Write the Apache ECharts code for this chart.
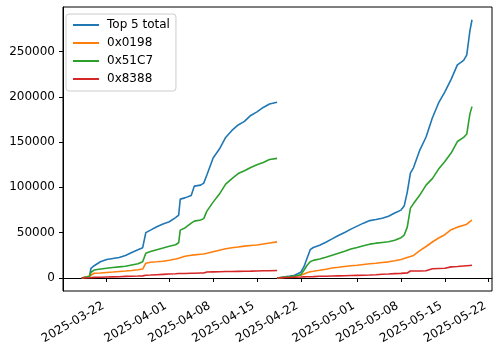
<!DOCTYPE html>
<html>
<head>
<meta charset="utf-8">
<script src="https://cdn.jsdelivr.net/npm/echarts@6/dist/echarts.min.js"></script>
<style>
  html, body { margin: 0; padding: 0; background: #fff; }
  #chart { width: 500px; height: 353px; }
</style>
</head>
<body>
<div id="chart"></div>
<script>
// first run (mid March -> 18 April)
const datesA = ['2025-03-18 00:00', '2025-03-19 06:00', '2025-03-19 12:00', '2025-03-20 00:00',
  '2025-03-21', '2025-03-22', '2025-03-23', '2025-03-24', '2025-03-25', '2025-03-26', '2025-03-27',
  '2025-03-27 18:00', '2025-03-28 06:00', '2025-03-29', '2025-03-30', '2025-03-31', '2025-04-01',
  '2025-04-02', '2025-04-02 12:00', '2025-04-02 18:00', '2025-04-03 12:00', '2025-04-04 12:00',
  '2025-04-05', '2025-04-06', '2025-04-06 12:00', '2025-04-07', '2025-04-08', '2025-04-09',
  '2025-04-10', '2025-04-11', '2025-04-12', '2025-04-13', '2025-04-14', '2025-04-15', '2025-04-16',
  '2025-04-17', '2025-04-18 05:00']
const totalA = [0, 1700, 10700, 13500, 17900, 20400, 21500, 22500, 24800, 28100, 31100, 33400, 50000,
  52800, 56600, 59600, 62000, 66600, 69300, 87000, 88400, 91100, 101400, 102500, 104700, 113600,
  132500, 142300, 155100, 162800, 168900, 172800, 179400, 183300, 188200, 192100, 194000]
const x0198A = [0, 2100, 3500, 5200, 5500, 6100, 6600, 7200, 7700, 8300, 9100, 9800, 16300, 17400,
  17900, 18500, 19600, 21000, 21800, 22900, 24000, 25100, 25500, 26200, 26500, 27300, 29000, 30600,
  32200, 33400, 34200, 35100, 35800, 36400, 37500, 38600, 39800]
const x51c7A = [0, 1700, 6300, 8700, 9800, 10700, 11500, 12200, 12900, 14300, 15700, 17900, 27300,
  29200, 31200, 33100, 35100, 36700, 38900, 52800, 55200, 60500, 62700, 64000, 65500, 73800, 83700,
  92600, 103600, 109700, 115200, 118300, 121900, 124900, 127400, 130700, 132000]
const x8388A = [0, 300, 400, 600, 800, 1000, 1200, 1400, 1700, 1900, 2100, 2300, 3000, 3200, 3600,
  4000, 4300, 4600, 4900, 4900, 5000, 5200, 5200, 5400, 5500, 6500, 6700, 6900, 7100, 7200, 7300,
  7400, 7500, 7700, 7900, 8000, 8200]

// second run (restart 18 April -> 19 May)
const datesB = ['2025-04-18 05:00', '2025-04-20', '2025-04-21', '2025-04-22', '2025-04-22 12:00',
  '2025-04-23', '2025-04-23 12:00', '2025-04-24', '2025-04-25', '2025-04-26', '2025-04-27',
  '2025-04-28', '2025-04-29', '2025-04-30', '2025-05-01', '2025-05-02', '2025-05-03', '2025-05-04',
  '2025-05-05', '2025-05-06', '2025-05-07', '2025-05-08', '2025-05-08 12:00', '2025-05-09',
  '2025-05-09 12:00', '2025-05-10', '2025-05-11', '2025-05-12', '2025-05-13', '2025-05-14',
  '2025-05-15', '2025-05-16', '2025-05-17', '2025-05-18', '2025-05-18 12:00', '2025-05-19 00:00',
  '2025-05-19 08:00']
const totalB = [0, 1700, 3000, 6300, 12400, 21800, 31200, 33600, 36200, 39500, 43100, 46900, 50200,
  53900, 57200, 60500, 63300, 64600, 66000, 68200, 71600, 74900, 79300, 94800, 115800, 121900,
  141200, 155600, 176600, 193200, 205400, 219200, 235200, 240200, 246300, 272800, 285000]
const x0198B = [0, 1100, 1800, 3000, 4300, 5800, 6900, 7400, 8500, 9700, 11000, 11800, 12700, 13500,
  14000, 14800, 15600, 16300, 17100, 17800, 19000, 20400, 21500, 22600, 23700, 24900, 30100, 34700,
  39700, 44100, 47700, 53300, 56100, 58300, 59400, 62200, 63800]
const x51c7B = [0, 1300, 2200, 3500, 8500, 14000, 17900, 19400, 20900, 22900, 25100, 27300, 29500,
  32000, 33600, 35600, 37300, 38400, 39200, 40000, 41700, 44500, 47200, 56100, 77100, 82100, 91500,
  102500, 109700, 120200, 128500, 137900, 150600, 155100, 158900, 181100, 189100]
const x8388B = [0, 500, 800, 1000, 1200, 1300, 1400, 1500, 1800, 1900, 2100, 2300, 2400, 2700, 2900,
  3000, 3200, 3600, 4100, 4400, 4800, 5100, 5300, 5500, 7700, 7700, 7700, 8000, 10100, 10400, 10700,
  12200, 12600, 13200, 13500, 13800, 14000]

const seriesNames = ['Top 5 total', '0x0198', '0x51C7', '0x8388']
const colors = ['#1f77b4', '#ff7f0e', '#2ca02c', '#d62728']
const xTicks = ['2025-03-22', '2025-04-01', '2025-04-08', '2025-04-15', '2025-04-22',
  '2025-05-01', '2025-05-08', '2025-05-15', '2025-05-22']
const yTicks = [0, 50000, 100000, 150000, 200000, 250000]

const toTime = s => echarts.time.parse(s).getTime()

// join both runs, with a null point so the line breaks between them
const joinRuns = (a, b) => {
  const first = datesA.map((d, i) => [toTime(d), a[i]])
  const second = datesB.map((d, i) => [toTime(d), b[i]])
  return first.concat([[toTime(datesA[datesA.length - 1]), null]], second)
}

const runs = [[totalA, totalB], [x0198A, x0198B], [x51c7A, x51c7B], [x8388A, x8388B]]

const font = { fontFamily: 'DejaVu Sans', fontSize: 12, color: '#000' }

const option = {
  animation: false,
  color: colors,
  grid: {
    left: 63, right: 8, top: 7, bottom: 62,
    show: true, borderColor: '#000', borderWidth: 1
  },
  legend: {
    orient: 'vertical',
    left: 66, top: 14,
    padding: [4, 6, 5, 7],
    icon: 'rect',
    itemWidth: 26, itemHeight: 2, itemGap: 4,
    backgroundColor: 'rgba(255,255,255,0.8)',
    borderColor: '#cccccc', borderWidth: 1, borderRadius: 3,
    textStyle: Object.assign({ lineHeight: 14, padding: [0, 0, 0, 3] }, font),
    data: seriesNames
  },
  xAxis: {
    type: 'value',
    min: toTime('2025-03-15 00:40'),
    max: toTime('2025-05-22 12:40'),
    splitLine: { show: false },
    axisLine: { lineStyle: { color: '#000', width: 1 } },
    axisTick: { show: true, length: 4, lineStyle: { color: '#000' }, customValues: xTicks.map(toTime) },
    axisLabel: Object.assign({
      rotate: 30, margin: 12, padding: [0, 4, 0, 0],
      customValues: xTicks.map(toTime),
      formatter: v => echarts.time.format(v, '{yyyy}-{MM}-{dd}', false)
    }, font)
  },
  yAxis: {
    type: 'value',
    min: -14400,
    max: 299100,
    splitLine: { show: false },
    axisLine: { show: true, lineStyle: { color: '#000', width: 1 } },
    axisTick: { show: true, length: 4, lineStyle: { color: '#000' }, customValues: yTicks },
    axisLabel: Object.assign({
      margin: 8,
      customValues: yTicks,
      formatter: v => String(v)
    }, font)
  },
  series: seriesNames.map((name, i) => ({
    name,
    type: 'line',
    symbol: 'none',
    connectNulls: false,
    lineStyle: { width: 1.6, color: colors[i] },
    itemStyle: { color: colors[i] },
    data: joinRuns(runs[i][0], runs[i][1])
  }))
}

const chart = echarts.init(document.getElementById('chart'))
chart.setOption(option)
</script>
</body>
</html>
